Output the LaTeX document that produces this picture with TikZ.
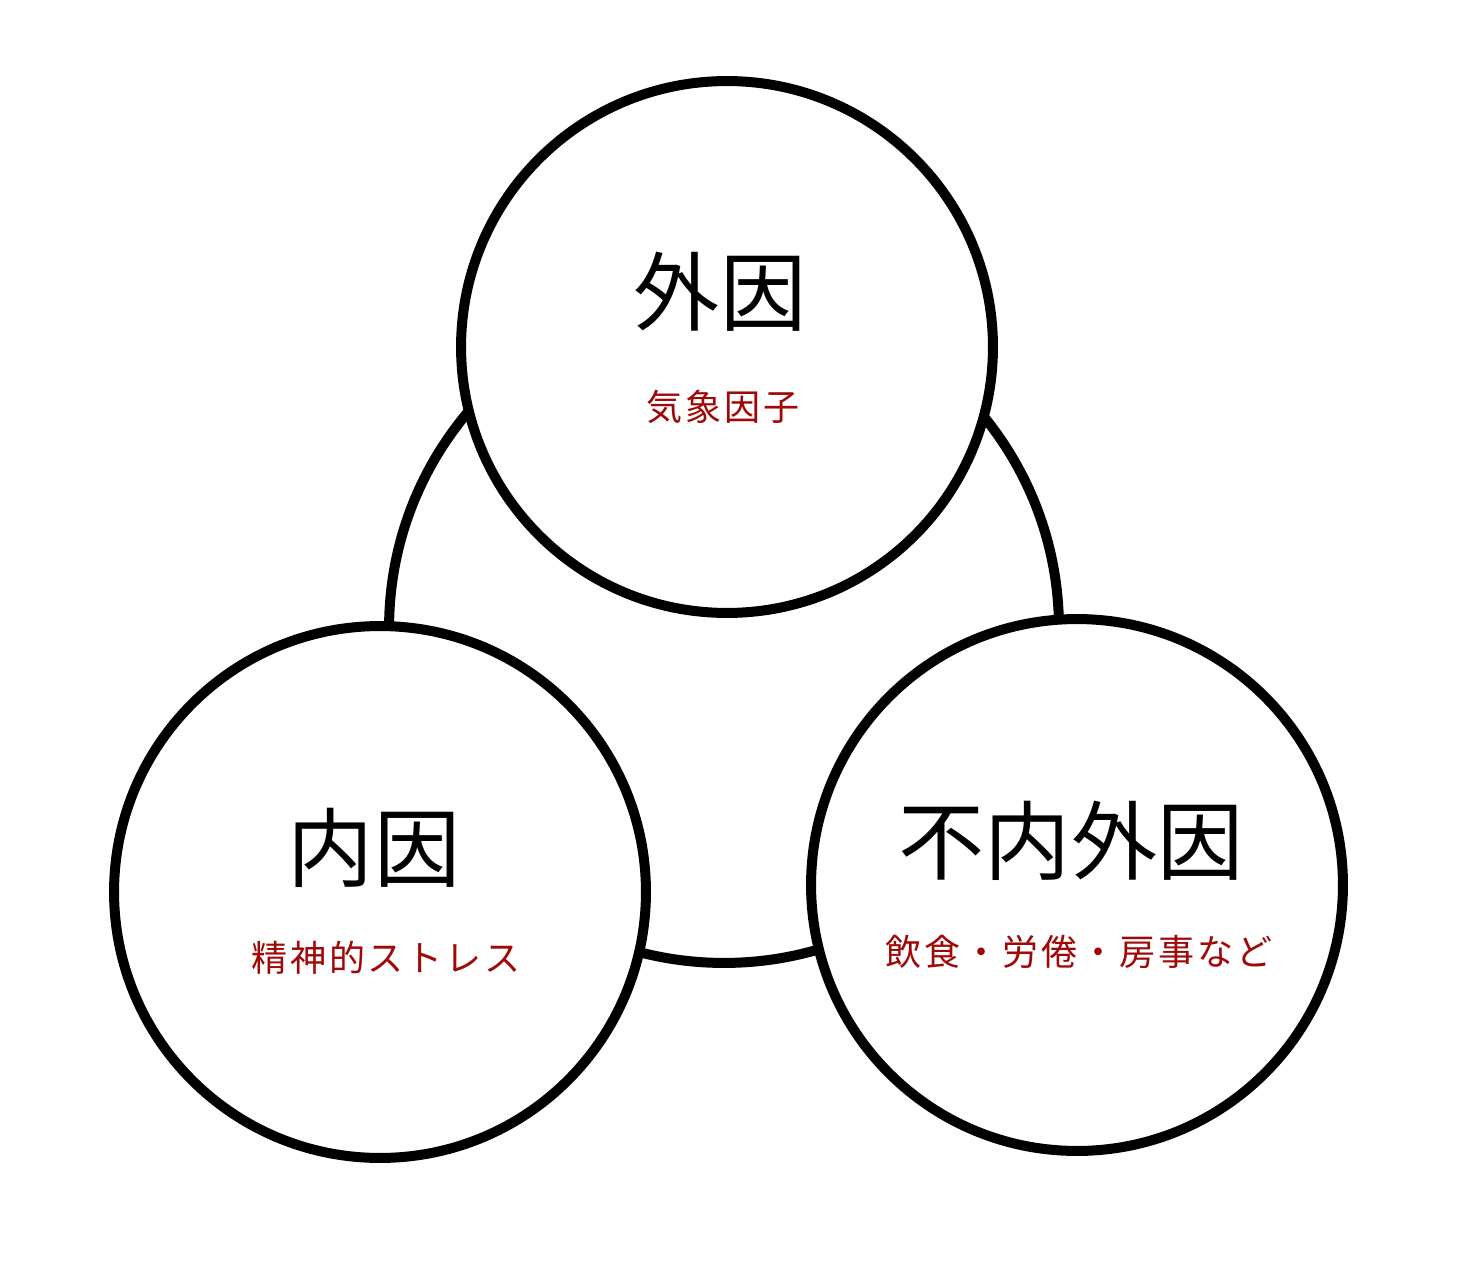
\documentclass[tikz,border=0pt]{standalone}
\usepackage{fontspec}
\setmainfont{Noto Sans CJK JP}
\usetikzlibrary{positioning}
\definecolor{subred}{RGB}{160,8,8}

\begin{document}
\begin{tikzpicture}[x=0.02cm,y=-0.02cm,line width=0.2cm]
  \tikzstyle{factor}=[circle,draw=black,fill=white,minimum size=10.64cm,inner sep=0pt]
  \tikzstyle{bigtext}=[text=black,font=\fontsize{49}{54}\selectfont,inner sep=0pt]
  \tikzstyle{subtext}=[text=subred,font=\fontsize{20.5}{24}\selectfont\addfontfeatures{LetterSpace=8},inner sep=0pt]
  \useasboundingbox (0,0) rectangle (1480,1280);

  \node[factor,minimum size=13.4cm] (whole) at (724,628) {};
  \node[factor] (outer) at (727,347) {};
  \node[factor] (inner) at (380,892) {};
  \node[factor] (neither) at (1077,885) {};

  \node[bigtext] (outername) at (720,292) {外因};
  \node[subtext] (outerdesc) at (723,407) {気象因子};
  \node[bigtext] (innername) at (374,848) {内因};
  \node[subtext] (innerdesc) at (386,958) {精神的ストレス};
  \node[bigtext] (neithername) at (1071,841) {不内外因};
  \node[subtext] (neitherdesc) at (1079,952) {飲食・労倦・房事など};
\end{tikzpicture}
\end{document}
